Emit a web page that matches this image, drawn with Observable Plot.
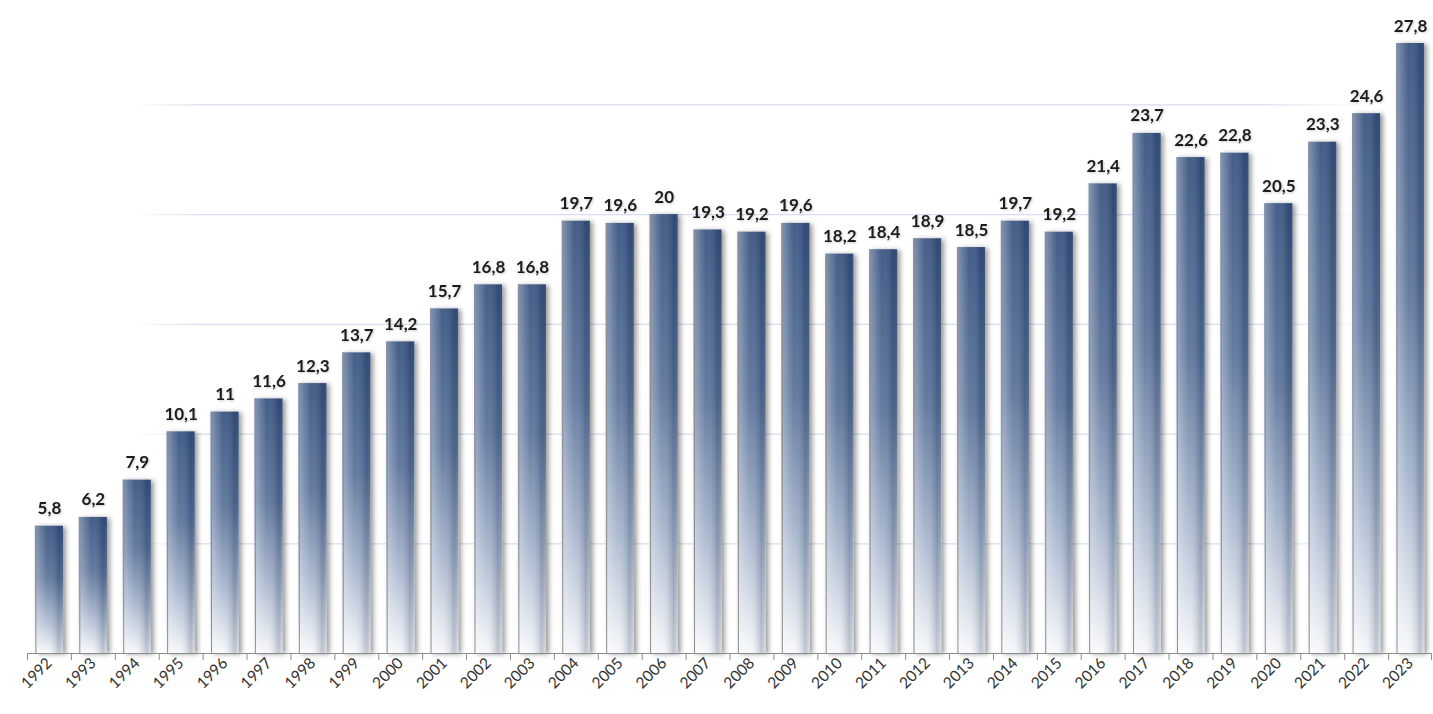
<!DOCTYPE html>
<html>
<head>
<meta charset="utf-8">
<script src="https://cdn.jsdelivr.net/npm/d3@7"></script>
<script src="https://cdn.jsdelivr.net/npm/@observablehq/plot@0.6"></script>
<style>
  html, body { margin: 0; padding: 0; background: #ffffff; }
  #chart { width: 1433px; height: 714px; }
</style>
</head>
<body>
<div id="chart"></div>
<script>
const years = ["1992","1993","1994","1995","1996","1997","1998","1999","2000","2001","2002","2003","2004","2005","2006","2007","2008","2009","2010","2011","2012","2013","2014","2015","2016","2017","2018","2019","2020","2021","2022","2023"];
const values = [5.8, 6.2, 7.9, 10.1, 11, 11.6, 12.3, 13.7, 14.2, 15.7, 16.8, 16.8, 19.7, 19.6, 20, 19.3, 19.2, 19.6, 18.2, 18.4, 18.9, 18.5, 19.7, 19.2, 21.4, 23.7, 22.6, 22.8, 20.5, 23.3, 24.6, 27.8];
const gridValues = [5, 10, 15, 20, 25];

const data = years.map((year, i) => ({year, value: values[i]}));
const fmt = v => String(v).replace(".", ",");

const W = 1433, H = 714, ML = 27, MR = 1, MT = 43, MB = 61;
const padInner = 0.36;
const step = (W - ML - MR) / years.length;
const bw = step * (1 - padInner);

const plot = Plot.plot({
  width: W,
  height: H,
  marginLeft: ML,
  marginRight: MR,
  marginTop: MT,
  marginBottom: MB,
  style: {fontFamily: "Lato, 'Open Sans', sans-serif", fontSize: "15.5px", background: "#ffffff", color: "#333333"},
  x: {type: "band", domain: years, paddingInner: padInner, paddingOuter: padInner / 2, round: false, tickRotate: -45, tickSize: 0, tickPadding: 7, label: null},
  y: {domain: [0, 27.8], axis: null},
  marks: [
    Plot.ruleY(gridValues, {stroke: "url(#gridGrad)", strokeWidth: 1.2}),
    Plot.barY(data, {x: "year", y: "value", fill: "url(#barGradV)"}),
    Plot.barY(data, {x: "year", y: "value", fill: "url(#barGradH)"}),
    Plot.ruleX(data, {x: "year", y1: 0, y2: "value", dx: -bw / 2 + 0.5, stroke: "#8e8e8e", strokeWidth: 1}),
    Plot.ruleY([0], {stroke: "#8c8c8c", strokeWidth: 1.2}),
    Plot.ruleX(years, {x: d => d, y1: 0, y2: 0, insetBottom: -7, dx: -step / 2, stroke: "#8c8c8c"}),
    Plot.ruleX([years[years.length - 1]], {x: d => d, y1: 0, y2: 0, insetBottom: -7, dx: step / 2 - 1, stroke: "#8c8c8c"}),
    Plot.text(data, {x: "year", y: "value", text: d => fmt(d.value), lineAnchor: "bottom", dy: -12, fontWeight: "bold", fontSize: 17, fill: "#1c1c1c"})
  ]
});

const svg = d3.select(plot);
const defs = svg.insert("defs", ":first-child");

const gv = defs.append("linearGradient").attr("id", "barGradV").attr("x1", 0).attr("y1", 0).attr("x2", 0).attr("y2", 1);
gv.append("stop").attr("offset", "0%").attr("stop-color", "#3a5581");
gv.append("stop").attr("offset", "40%").attr("stop-color", "#5c749b");
gv.append("stop").attr("offset", "72%").attr("stop-color", "#a8b6cd");
gv.append("stop").attr("offset", "100%").attr("stop-color", "#f6f8fb");

const gh = defs.append("linearGradient").attr("id", "barGradH").attr("x1", 0).attr("y1", 0).attr("x2", 1).attr("y2", 0);
gh.append("stop").attr("offset", "0%").attr("stop-color", "#ffffff").attr("stop-opacity", 0.38);
gh.append("stop").attr("offset", "45%").attr("stop-color", "#ffffff").attr("stop-opacity", 0.05);
gh.append("stop").attr("offset", "85%").attr("stop-color", "#10264d").attr("stop-opacity", 0.24);
gh.append("stop").attr("offset", "100%").attr("stop-color", "#10264d").attr("stop-opacity", 0.12);

const gg = defs.append("linearGradient").attr("id", "gridGrad").attr("gradientUnits", "userSpaceOnUse").attr("x1", 0).attr("y1", 0).attr("x2", W).attr("y2", 0);
gg.append("stop").attr("offset", "0%").attr("stop-color", "#dfe4ef").attr("stop-opacity", 0);
gg.append("stop").attr("offset", "9%").attr("stop-color", "#dfe4ef").attr("stop-opacity", 0);
gg.append("stop").attr("offset", "14%").attr("stop-color", "#d6ddec").attr("stop-opacity", 1);
gg.append("stop").attr("offset", "88%").attr("stop-color", "#d6ddec").attr("stop-opacity", 1);
gg.append("stop").attr("offset", "96%").attr("stop-color", "#dfe4ef").attr("stop-opacity", 0);

const sh = defs.append("filter").attr("id", "barShadow").attr("x", "-20%").attr("y", "-5%").attr("width", "160%").attr("height", "110%");
sh.append("feDropShadow").attr("dx", 3).attr("dy", 1).attr("stdDeviation", 2.5).attr("flood-color", "#000").attr("flood-opacity", 0.4);

const ts = defs.append("filter").attr("id", "textShadow").attr("x", "-20%").attr("y", "-20%").attr("width", "140%").attr("height", "140%");
ts.append("feDropShadow").attr("dx", 1).attr("dy", 1).attr("stdDeviation", 1.2).attr("flood-color", "#000").attr("flood-opacity", 0.2);

const barGroups = plot.querySelectorAll('g[aria-label="bar"]');
if (barGroups.length) barGroups[0].setAttribute("filter", "url(#barShadow)");
const textGroups = plot.querySelectorAll('g[aria-label="text"]');
if (textGroups.length) textGroups[textGroups.length - 1].setAttribute("filter", "url(#textShadow)");

document.getElementById("chart").appendChild(plot);
</script>
</body>
</html>
